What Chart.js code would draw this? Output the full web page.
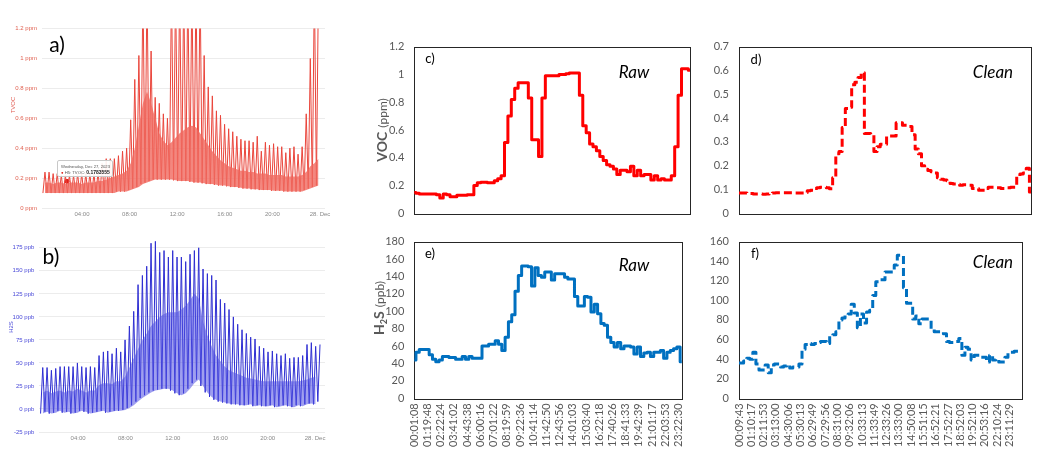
<!DOCTYPE html>
<html>
<head>
<meta charset="utf-8">
<script src="https://cdn.jsdelivr.net/npm/chart.js@4/dist/chart.umd.min.js"></script>
<style>
  body { margin: 0; background: #fff; width: 1040px; height: 470px; position: relative; overflow: hidden; font-family: Lato, sans-serif; }
  canvas { position: absolute; }
  .t { position: absolute; transform: translate(-50%, -50%); white-space: nowrap; line-height: 1; }
  .r { transform: translate(-50%, -50%) rotate(-90deg); }
  .tip { position: absolute; left: 57px; top: 160px; width: 56px; height: 17px; border: 1px solid #c8c8c8; border-radius: 2px;
         background: rgba(255,255,255,0.92); font-family: "Liberation Sans", sans-serif; font-size: 4.2px; color: #555;
         padding: 3px 3px; box-sizing: border-box; line-height: 5.5px; white-space: nowrap; }
</style>
</head>
<body>
<canvas id="chartA" width="340" height="200" style="left:0;top:20px"></canvas>
<canvas id="chartB" width="340" height="220" style="left:0;top:230px"></canvas>
<canvas id="chartC" width="330" height="200" style="left:370px;top:30px"></canvas>
<canvas id="chartD" width="340" height="200" style="left:700px;top:30px"></canvas>
<canvas id="chartE" width="330" height="245" style="left:370px;top:225px"></canvas>
<canvas id="chartF" width="340" height="245" style="left:700px;top:225px"></canvas>

<div class="tip">Wednesday, Dec 27, 2023<br><span style="color:#e0201a">●</span> H5: TVOC: <b style="color:#222;font-size:5px">0.1783555</b></div>

<div class="t" style="left:57px;top:43px;font-size:21px">a)</div>
<div class="t" style="left:51px;top:255px;font-size:21px">b)</div>
<div class="t r" style="left:13px;top:105px;font-size:6px;color:#e05a50;font-family:'Liberation Sans'">TVOC</div>
<div class="t r" style="left:11px;top:327px;font-size:6px;color:#4a4ad8;font-family:'Liberation Sans'">H2S</div>

<div class="t r" style="left:381px;top:130px;color:#595959"><b style="font-size:14px">VOC</b> <span style="font-size:12px">(ppm)</span></div>
<div class="t r" style="left:379px;top:308px;color:#595959"><b style="font-size:14px">H<sub style="font-size:9px">2</sub>S</b> <span style="font-size:12px">(ppb)</span></div>

<div class="t" style="left:430px;top:58px;font-size:13px">c)</div>
<div class="t" style="left:634px;top:71px;font-size:17px;font-style:italic">Raw</div>
<div class="t" style="left:756px;top:59px;font-size:13px">d)</div>
<div class="t" style="left:993px;top:71px;font-size:17px;font-style:italic">Clean</div>
<div class="t" style="left:430px;top:253px;font-size:13px">e)</div>
<div class="t" style="left:634px;top:264px;font-size:17px;font-style:italic">Raw</div>
<div class="t" style="left:755px;top:253px;font-size:13px">f)</div>
<div class="t" style="left:993px;top:261px;font-size:17px;font-style:italic">Clean</div>

<script>
// ---- left panels: one spike per sensor cycle (peak, top of dense band, trough)
const vocStart = 0.89, vocStep = 0.343;   // hours
const vocPeak = [0.24,0.24,0.23,0.23,0.22,0.22,0.22,0.22,0.23,0.23,0.23,0.23,0.23,0.24,0.30,
  0.33,0.33,0.33,0.35,0.38,0.40,0.59,0.86,
  1.02,1.5,1.5,1.05,0.74,0.70,0.63,0.60,
  1.5,1.5,1.5,1.5,1.5,1.5,1.5,1.5,
  1.02,0.81,0.75,0.65,0.62,0.56,0.53,0.51,0.48,0.46,0.45,0.45,0.44,0.48,0.38,0.44,0.42,0.43,0.41,0.41,
  0.37,0.40,0.41,0.36,0.41,0.63,1.0,1.5,1.5];
const vocMid = [0.17,0.17,0.16,0.17,0.17,0.16,0.17,0.17,0.17,0.16,0.17,0.17,0.17,0.18,0.18,
  0.19,0.2,0.21,0.22,0.23,0.25,0.3,0.4,
  0.55,0.7,0.78,0.7,0.6,0.5,0.45,0.42,
  0.44,0.47,0.5,0.52,0.54,0.55,0.54,0.5,
  0.46,0.42,0.38,0.35,0.32,0.3,0.28,0.27,0.26,0.25,0.25,0.24,0.24,0.23,0.23,0.23,0.22,0.22,0.22,0.22,
  0.21,0.21,0.21,0.21,0.22,0.24,0.28,0.3,0.33];
const vocLow = [0.10,0.10,0.10,0.10,0.10,0.10,0.10,0.10,0.10,0.10,0.10,0.10,0.10,0.10,0.10,
  0.10,0.10,0.10,0.11,0.11,0.11,0.12,0.13,
  0.14,0.16,0.17,0.18,0.19,0.19,0.19,0.19,
  0.19,0.185,0.18,0.18,0.18,0.175,0.17,0.17,
  0.165,0.16,0.16,0.155,0.15,0.15,0.145,0.14,0.14,0.135,0.13,0.13,0.125,0.125,0.12,0.12,0.12,0.115,0.115,0.115,
  0.11,0.11,0.11,0.11,0.11,0.12,0.13,0.14,0.15];
const hoverPoint = {time: 2.74, value: 0.1783555};

const h2sStart = 1.02, h2sStep = 0.3656;
const h2sPeak = [45,45,42,44,46,46,46,46,50,46,45,46,45,58,62,63,60,66,62,75,
  90,106,135,145,155,180,182,170,172,165,172,165,165,160,168,172,175,152,147,145,
  140,119,115,108,100,92,86,82,78,76,68,66,62,63,60,58,60,55,56,56,58,70,72,68,70];
const h2sMid = [18,20,17,19,20,18,20,19,22,20,18,20,20,
  26,28,28,27,30,30,
  35,45,55,65,75,82,90,95,100,103,105,105,105,108,112,118,125,120,
  95,80,68,58,52,46,42,40,38,36,34,33,32,31,30,30,30,30,30,30,30,30,30,31,32,34,35];
const h2sLow = [-5,-3,-5,-4,-2,-4,-3,-5,-4,-2,-3,-5,-4,-3,-2,-4,-3,-2,-2,
  -1,1,4,8,12,15,18,20,21,22,22,20,17,15,17,22,28,32,
  25,18,13,10,8,7,6,5,5,4,4,5,3,4,3,3,4,2,3,4,3,2,4,3,5,6,5,8];

const hourTicks = [4, 8, 12, 16, 20, 24];
const hourLabels = ['04:00', '08:00', '12:00', '16:00', '20:00', '28. Dec'];

// ---- right panels
const rawTimes = ['00:01:08','01:19:48','02:22:24','03:41:02','04:43:38','06:00:16','07:01:22','08:19:59','09:22:36','10:41:14','11:42:50',
  '12:43:56','14:01:03','15:03:40','16:22:18','17:40:26','18:41:33','19:42:39','21:01:17','22:03:53','23:22:30'];
const cleanTimes = ['00:09:43','01:10:17','02:11:53','03:13:00','04:30:06','05:30:13','06:29:49','07:29:56','08:31:00','09:32:06','10:33:13',
  '11:33:49','12:33:26','13:33:00','14:50:08','15:51:15','16:52:21','17:52:27','18:52:03','19:52:10','20:53:16','22:10:24','23:11:29'];

const vocRaw = [0.15,0.145,0.14,0.14,0.14,0.14,0.14,0.135,0.11,0.14,0.135,0.12,0.12,0.13,0.13,0.13,
  0.135,0.135,0.20,0.22,0.225,0.225,0.22,0.22,0.235,0.25,0.27,0.51,0.70,0.82,0.90,0.94,0.94,0.94,0.83,0.53,0.53,0.41,0.83,
  0.99,0.99,0.99,0.99,1.0,1.0,1.005,1.01,1.01,1.01,0.85,0.63,0.58,0.50,0.48,0.45,0.41,0.38,0.35,0.34,
  0.32,0.28,0.31,0.31,0.30,0.34,0.27,0.31,0.27,0.28,0.28,0.24,0.27,0.24,0.25,0.24,0.24,0.27,0.48,0.85,1.04,1.04,1.03];
const h2sRaw = [44,53,56,56,56,50,45,42,44,48,48,47,47,45,45,48,
  45,48,46,46,46,60,60,62,62,66,62,55,70,88,96,123,141,152,152,151,129,150,141,139,145,145,136,143,143,143,
  139,137,137,117,106,106,117,116,99,108,97,86,84,
  70,64,59,64,57,60,60,59,51,59,48,52,53,48,53,53,55,46,53,55,57,59,42];
const vocClean = [0.086,0.086,0.086,0.085,0.084,0.081,0.081,0.081,0.080,0.081,
  0.085,0.086,0.087,0.087,0.087,0.087,0.087,0.087,0.086,0.086,
  0.086,0.088,0.095,0.097,0.105,0.108,0.11,0.11,0.108,0.103,
  0.15,0.25,0.26,0.36,0.44,0.445,0.54,0.55,0.57,0.59,
  0.335,0.335,0.33,0.26,0.28,0.29,0.29,0.325,0.325,0.325,
  0.38,0.38,0.37,0.37,0.365,0.33,0.27,0.25,0.2,0.185,
  0.18,0.175,0.17,0.15,0.143,0.14,0.137,0.125,0.123,0.122,
  0.118,0.12,0.12,0.118,0.105,0.105,0.097,0.097,0.105,0.11,
  0.11,0.108,0.108,0.105,0.105,0.108,0.11,0.11,0.155,0.165,
  0.17,0.19,0.09];
const h2sClean = [36,36,38,41,40,47,35,29,29,34,
  26,34,35,35,32,33,34,31,32,32,
  35,50,55,56,55,56,57,58,58,56,
  64,65,68,80,82,85,86,96,87,72,
  86,77,88,90,105,119,121,121,129,129,
  129,136,146,146,113,97,97,81,84,76,
  81,81,81,71,68,68,68,66,58,57,
  57,58,61,44,52,50,39,44,44,42,
  42,37,44,39,40,37,37,42,47,47,
  48,48,48];

Chart.defaults.font.family = 'Lato';
Chart.defaults.animation = false;
Chart.defaults.events = [];
Chart.defaults.plugins.legend.display = false;
Chart.defaults.plugins.tooltip.enabled = false;

function series(start, step, values) {
  return values.map((v, k) => ({x: start + step * k, y: v}));
}

function zigzag(start, step, peaks, lows) {
  const pts = [];
  peaks.forEach((p, k) => {
    pts.push({x: start + step * (k - 0.5), y: lows[k]});
    pts.push({x: start + step * k, y: p});
  });
  return pts;
}

function categories(ticks, n) {
  const out = [];
  for (let i = 0; i < n; i++) {
    out.push(i % 4 === 0 && ticks[i / 4] ? ticks[i / 4] : '');
  }
  return out;
}

//  left charts (web dashboard style)
function dashboardChart(id, o) {
  const small = {family: 'Liberation Sans', size: 6};
  new Chart(document.getElementById(id), {
    type: 'line',
    data: {
      datasets: [
        {data: series(o.start, o.step, o.low), borderWidth: 0, pointRadius: 0, fill: false},
        {data: series(o.start, o.step, o.mid), borderWidth: 0, pointRadius: 0, fill: '-1', backgroundColor: o.band},
        {data: zigzag(o.start, o.step, o.peak, o.low), borderColor: o.color, borderWidth: 1, pointRadius: 0, fill: false},
        {data: o.marker || [], pointRadius: 3, pointBackgroundColor: '#e0201a', pointBorderColor: '#fff', pointBorderWidth: 1, showLine: false}
      ]
    },
    options: {
      responsive: false,
      layout: {padding: o.padding},
      scales: {
        x: {
          type: 'linear', min: o.xmin, max: o.xmax,
          grid: {display: false, drawTicks: false}, border: {display: false},
          afterBuildTicks: (s) => { s.ticks = hourTicks.map(v => ({value: v})); },
          ticks: {callback: (v, i) => hourLabels[i], font: small, color: '#8a8a8a', padding: 3, maxRotation: 0, autoSkip: false},
          afterFit: (s) => { s.height = o.xHeight; }
        },
        y: {
          min: o.ymin, max: o.ymax,
          grid: {color: '#ececec', drawTicks: false}, border: {display: false},
          afterBuildTicks: (s) => { s.ticks = s.ticks.filter(t => t.value <= o.ytop); },
          ticks: {stepSize: o.ystep, font: small, color: o.tickColor, padding: 5,
            callback: (v) => Number(v.toFixed(1)) + ' ' + o.unit},
          afterFit: (s) => { s.width = o.yWidth; }
        }
      }
    }
  });
}

dashboardChart('chartA', {
  start: vocStart, step: vocStep, peak: vocPeak, mid: vocMid, low: vocLow,
  marker: [{x: hoverPoint.time, y: hoverPoint.value}],
  color: '#ea463c', band: 'rgba(240,105,95,0.8)', tickColor: '#e06050', unit: 'ppm',
  xmin: 0.64, xmax: 24.42, ymin: 0, ymax: 1.2, ytop: 1.2, ystep: 0.2,
  yWidth: 42, xHeight: 12, padding: {top: 6.7, right: 15, bottom: 0, left: 0}
});

dashboardChart('chartB', {
  start: h2sStart, step: h2sStep, peak: h2sPeak, mid: h2sMid, low: h2sLow,
  color: '#2f2fd2', band: 'rgba(80,80,225,0.55)', tickColor: '#4a4ad8', unit: 'ppb',
  xmin: 0.73, xmax: 24.84, ymin: -25, ymax: 185, ytop: 175, ystep: 25,
  yWidth: 39.3, xHeight: 14, padding: {top: 2.2, right: 15, bottom: 4, left: 0}
});

//  right charts (spreadsheet style)
const frame = {
  id: 'frame',
  beforeDatasetsDraw(chart) {
    const {ctx, chartArea: a} = chart;
    ctx.save();
    ctx.strokeStyle = '#262626';
    ctx.lineWidth = 1;
    ctx.strokeRect(Math.round(a.left) + 0.5, Math.round(a.top) + 0.5, Math.round(a.right - a.left), Math.round(a.bottom - a.top));
    ctx.restore();
  }
};

function sheetChart(id, o) {
  new Chart(document.getElementById(id), {
    type: 'line',
    data: {
      labels: o.labels,
      datasets: [{
        data: o.values, borderColor: o.color, borderWidth: 3, borderDash: o.dash || [],
        borderJoinStyle: 'round', stepped: 'middle', pointRadius: 0, fill: false
      }]
    },
    options: {
      responsive: false,
      layout: {padding: o.padding},
      scales: {
        x: {
          grid: {display: false, drawTicks: false}, border: {display: false},
          ticks: {display: o.showX, autoSkip: false, minRotation: 90, maxRotation: 90, padding: 5,
            font: {size: 11}, color: '#595959'},
          afterFit: (s) => { s.height = o.xHeight; }
        },
        y: {
          min: 0, max: o.ymax,
          grid: {display: false, drawTicks: false}, border: {display: false},
          ticks: {stepSize: o.ystep, font: {size: 11}, color: '#595959', padding: 10,
            callback: (v) => String(Number(v.toFixed(2)))},
          afterFit: (s) => { s.width = o.yWidth; }
        }
      }
    },
    plugins: [frame]
  });
}

sheetChart('chartC', {
  labels: categories(rawTimes, vocRaw.length), values: vocRaw, color: '#ff0000',
  ymax: 1.2, ystep: 0.2, showX: false, xHeight: 0, yWidth: 44.3,
  padding: {top: 13.3, right: 10, bottom: 11.7, left: 0}
});
sheetChart('chartD', {
  labels: categories(cleanTimes, vocClean.length), values: vocClean, color: '#ff0000', dash: [8, 4],
  ymax: 0.7, ystep: 0.1, showX: false, xHeight: 0, yWidth: 39,
  padding: {top: 13.3, right: 9, bottom: 10.7, left: 0}
});
sheetChart('chartE', {
  labels: categories(rawTimes, h2sRaw.length), values: h2sRaw, color: '#0070c0',
  ymax: 180, ystep: 20, showX: true, xHeight: 60, yWidth: 44.3,
  padding: {top: 10, right: 9, bottom: 11.7, left: 0}
});
sheetChart('chartF', {
  labels: categories(cleanTimes, h2sClean.length), values: h2sClean, color: '#0070c0', dash: [8, 4],
  ymax: 160, ystep: 20, showX: true, xHeight: 60, yWidth: 39,
  padding: {top: 8.3, right: 9, bottom: 11.7, left: 0}
});
</script>
</body>
</html>
